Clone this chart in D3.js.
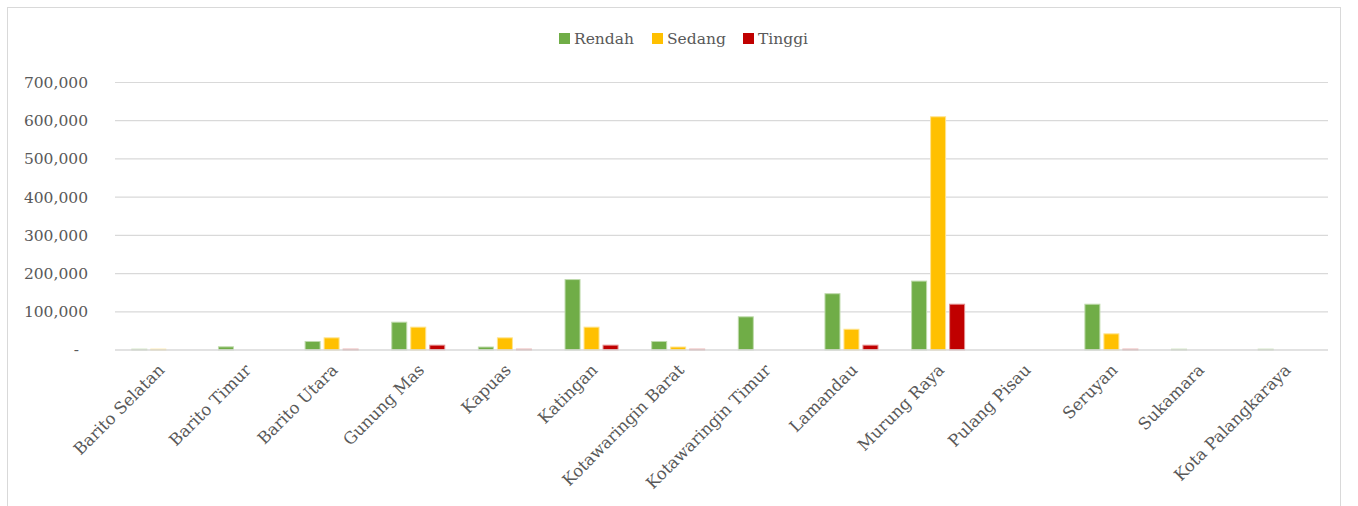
<!DOCTYPE html>
<html>
<head>
<meta charset="utf-8">
<script src="https://cdn.jsdelivr.net/npm/d3@7"></script>
<style>
  html, body { margin: 0; padding: 0; background: #fff; }
  svg { display: block; }
  text { font-family: "DejaVu Serif", serif; fill: #595959; }
</style>
</head>
<body>
<svg id="chart" width="1358" height="506"></svg>
<script>
// Luas lahan per kabupaten/kota menurut kelas (Rendah, Sedang, Tinggi)
const categories = [
  "Barito Selatan", "Barito Timur", "Barito Utara", "Gunung Mas", "Kapuas",
  "Katingan", "Kotawaringin Barat", "Kotawaringin Timur", "Lamandau",
  "Murung Raya", "Pulang Pisau", "Seruyan", "Sukamara", "Kota Palangkaraya"
];
const seriesNames = ["Rendah", "Sedang", "Tinggi"];
const rendah = [800, 7000, 21000, 71500, 6500, 183000, 21000, 85500, 146000, 179000, 0, 118500, 800, 800];
const sedang = [800, 0, 30500, 58500, 30500, 58500, 6500, 0, 53000, 609000, 0, 41000, 0, 0];
const tinggi = [0, 0, 800, 11300, 800, 11300, 800, 0, 11300, 118500, 0, 800, 0, 0];
const yTicks = [0, 100000, 200000, 300000, 400000, 500000, 600000, 700000];
const colors = ["#70ad47", "#ffc000", "#c00000"];

const values = [rendah, sedang, tinggi];
const svg = d3.select("#chart");
const W = 1358, H = 506;
const m = { left: 115, right: 30, top: 82.5, bottom: 156 };
const plotRight = W - m.right;
const plotBottom = H - m.bottom;

// outer frame
svg.append("rect")
  .attr("x", 7.5).attr("y", 7.5)
  .attr("width", 1333).attr("height", 520)
  .attr("fill", "none").attr("stroke", "#d9d9d9").attr("stroke-width", 1);

const x = d3.scaleBand().domain(categories).range([m.left, plotRight]).paddingInner(0).paddingOuter(0);
const y = d3.scaleLinear().domain([0, 700000]).range([plotBottom, m.top]);

// inner band for the three series
const step = 19, barW = 15;
const xs = d3.scaleBand().domain(seriesNames)
  .range([-step * 1.5, step * 1.5]).paddingInner((step - barW) / step).paddingOuter((step - barW) / step / 2);

// gridlines
svg.append("g").selectAll("line").data(yTicks.filter(t => t > 0)).join("line")
  .attr("x1", m.left).attr("x2", plotRight)
  .attr("y1", d => y(d)).attr("y2", d => y(d))
  .attr("stroke", "#d9d9d9").attr("stroke-width", 1.2);

// y axis labels
const fmt = d3.format(",");
const yAxis = d3.axisLeft(y).tickValues(yTicks).tickSize(0).tickPadding(0)
  .tickFormat(d => d === 0 ? "-" : fmt(d));
const yg = svg.append("g").attr("transform", `translate(88,0)`).call(yAxis);
yg.select(".domain").remove();
yg.selectAll("text").attr("font-size", 15.5).attr("fill", "#595959")
  .attr("font-family", "DejaVu Serif, serif")
  .attr("dx", d => d === 0 ? -9 : 0);

// bars
const lighten = c => d3.interpolateRgb(c, "#ffffff")(0.55);
seriesNames.forEach((s, si) => {
  svg.append("g").selectAll("rect")
    .data(categories.map((c, i) => ({ c, v: values[si][i] })).filter(d => d.v > 0))
    .join("rect")
    .attr("x", d => x(d.c) + x.bandwidth() / 2 + xs(s))
    .attr("width", xs.bandwidth())
    .attr("y", d => y(d.v) - 0.5)
    .attr("height", d => plotBottom - y(d.v) + 0.5)
    .attr("fill", colors[si])
    .attr("stroke", lighten(colors[si]))
    .attr("stroke-width", 1);
});

// x axis line
svg.append("line")
  .attr("x1", m.left).attr("x2", plotRight)
  .attr("y1", plotBottom).attr("y2", plotBottom)
  .attr("stroke", "#d9d9d9").attr("stroke-width", 1.5);

// x labels, rotated
const xAxis = d3.axisBottom(x).tickSize(0).tickPadding(0);
const xg = svg.append("g").attr("transform", `translate(0,${plotBottom})`).call(xAxis);
xg.select(".domain").remove();
xg.selectAll("text")
  .attr("font-size", 16.5).attr("fill", "#595959")
  .attr("font-family", "DejaVu Serif, serif")
  .attr("text-anchor", "end")
  .attr("transform", "translate(3,17) rotate(-45)")
  .attr("dy", "0.35em")
  .attr("y", 0);

// legend
const legendItems = [
  { name: "Rendah", x: 559 }, { name: "Sedang", x: 652 }, { name: "Tinggi", x: 743 }
];
const lg = svg.append("g");
legendItems.forEach((d, i) => {
  lg.append("rect").attr("x", d.x).attr("y", 33).attr("width", 11).attr("height", 11).attr("fill", colors[i]);
  lg.append("text").attr("x", d.x + 15).attr("y", 44).attr("font-size", 15.5).text(d.name);
});
</script>
</body>
</html>
